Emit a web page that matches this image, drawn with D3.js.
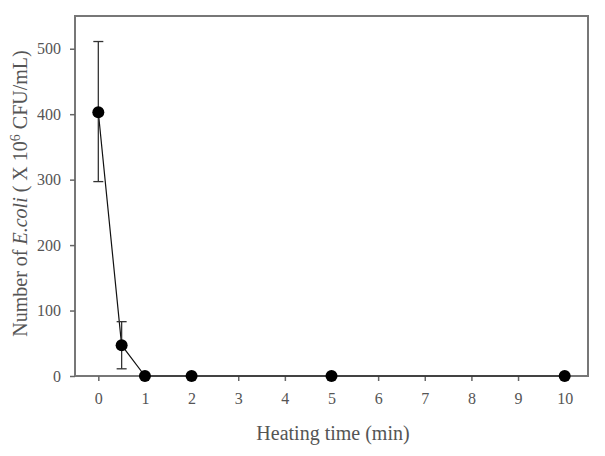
<!DOCTYPE html>
<html><head><meta charset="utf-8">
<script src="https://cdn.jsdelivr.net/npm/d3@7"></script>
<style>body{margin:0;background:#fff}svg{display:block}text{font-family:"Liberation Serif","Times New Roman",serif}</style>
</head><body>
<svg id="c" width="605" height="456"></svg>
<script>
const times = [0, 0.5, 1, 2, 5, 10];
const counts = [403, 47, 0, 0, 0, 0];
const errLow = [297, 11, null, null, null, null];
const errHigh = [511, 83, null, null, null, null];
const xTicks = [0,1,2,3,4,5,6,7,8,9,10];
const yTicks = [0,100,200,300,400,500];

const svg = d3.select("#c");
const L = 75, R = 588, T = 16, B = 376;
const x = d3.scaleLinear().domain([-0.5, 10.5]).range([L, R]);
const y = d3.scaleLinear().domain([0, 550]).range([B, T]);
const axisCol = "#666", textCol = "#555";

// frame
svg.append("rect").attr("x", L).attr("y", T).attr("width", R - L).attr("height", B - T)
  .attr("fill", "none").attr("stroke", "#777").attr("stroke-width", 2);

const gx = svg.append("g").attr("transform", `translate(0,${B})`)
  .call(d3.axisBottom(x).tickValues(xTicks).tickSize(5).tickPadding(12).tickSizeOuter(0));
const gy = svg.append("g").attr("transform", `translate(${L},0)`)
  .call(d3.axisLeft(y).tickValues(yTicks).tickSize(5).tickPadding(9).tickSizeOuter(0));
[gx, gy].forEach(g => {
  g.select(".domain").remove();
  g.selectAll("line").attr("stroke", axisCol).attr("stroke-width", 1.5);
  g.selectAll("text").attr("fill", textCol).style("font-size", "16px")
    .style("font-family", '"Liberation Serif", serif');
});

// line
svg.append("path").datum(times.map((t, i) => [t, counts[i]]))
  .attr("d", d3.line().x(d => x(d[0])).y(d => y(d[1])))
  .attr("fill", "none").attr("stroke", "#111").attr("stroke-width", 1.2);

// error bars
const eb = svg.append("g").attr("stroke", "#333").attr("stroke-width", 1.3);
times.forEach((t, i) => {
  if (errLow[i] == null) return;
  const cx = x(t);
  eb.append("line").attr("x1", cx).attr("x2", cx).attr("y1", y(errLow[i])).attr("y2", y(errHigh[i]));
  [errLow[i], errHigh[i]].forEach(v => eb.append("line")
    .attr("x1", cx - 5).attr("x2", cx + 5).attr("y1", y(v)).attr("y2", y(v)));
});

// markers
svg.append("g").selectAll("circle").data(times).join("circle")
  .attr("cx", d => x(d)).attr("cy", (d, i) => y(counts[i])).attr("r", 6).attr("fill", "#000");

// titles
svg.append("text").attr("x", 333).attr("y", 440).attr("text-anchor", "middle")
  .attr("fill", textCol).style("font-size", "20px").text("Heating time (min)");

const yt = svg.append("text").attr("transform", `translate(27,${(50 + 337) / 2}) rotate(-90)`)
  .attr("text-anchor", "middle").attr("fill", textCol).style("font-size", "20px");
yt.append("tspan").text("Number of ");
yt.append("tspan").attr("font-style", "italic").text("E.coli");
yt.append("tspan").text(" ( X 10");
yt.append("tspan").attr("baseline-shift", "super").style("font-size", "14px").text("6");
yt.append("tspan").text(" CFU/mL)");
</script>
</body></html>
